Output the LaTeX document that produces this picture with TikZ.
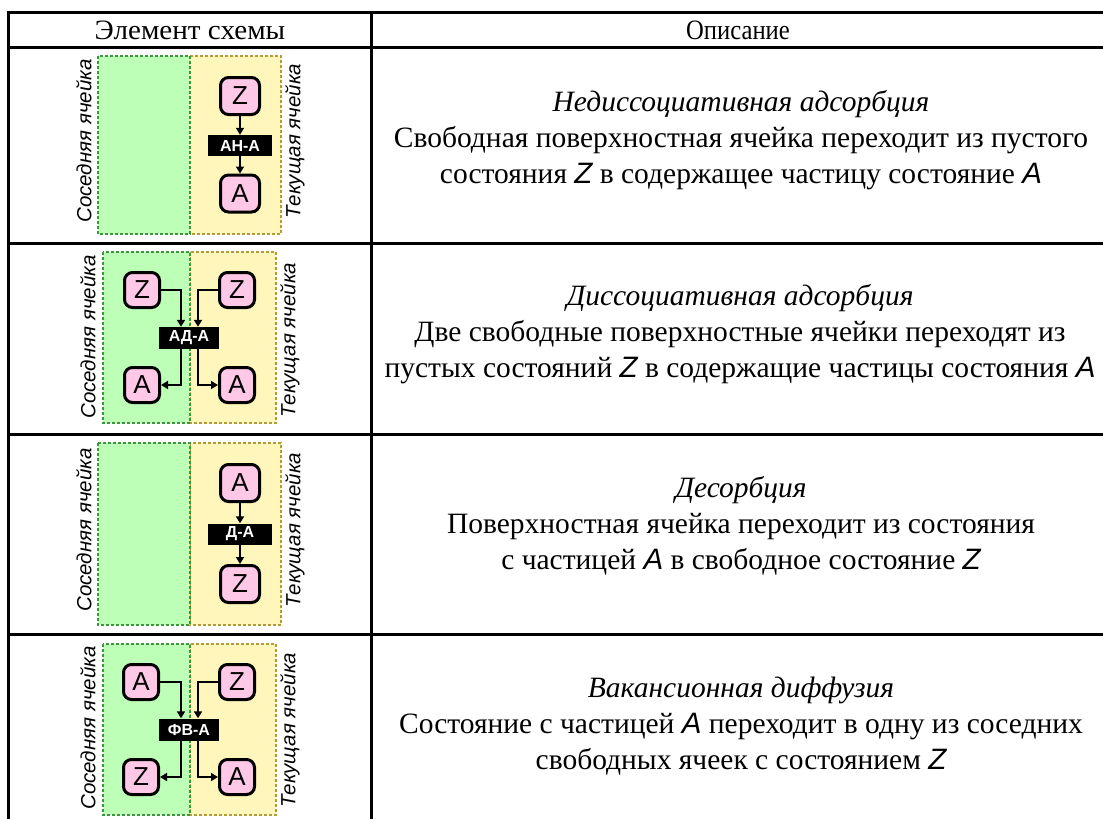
\documentclass[tikz,border=0pt]{standalone}
\usepackage{fontspec}
\setmainfont{Liberation Serif}
\newfontfamily\arialf{Liberation Sans}
\usetikzlibrary{arrows.meta}
\definecolor{pinkf}{RGB}{255,200,230}
\definecolor{greenf}{RGB}{190,255,184}
\definecolor{greenb}{RGB}{60,150,60}
\definecolor{yellowf}{RGB}{255,246,188}
\definecolor{yellowb}{RGB}{180,155,50}
\newcommand{\sv}[1]{{\arialf\itshape #1}}
\begin{document}
\begin{tikzpicture}[x=1pt,y=-1pt,
  tbl/.style={line width=3pt, line cap=rect},
  stbig/.style={draw=black, line width=3pt, fill=pinkf, rounded corners=8pt,
    minimum width=39pt, minimum height=37pt, inner sep=0pt,
    font=\arialf\fontsize{26}{26}\selectfont},
  stsm/.style={stbig, minimum width=35pt, minimum height=35pt},
  labbig/.style={fill=black, text=white, minimum width=64pt, minimum height=21pt, inner sep=0pt,
    font=\arialf\bfseries\fontsize{16}{16}\selectfont},
  labsm/.style={labbig, minimum width=60pt, minimum height=22pt},
  arr/.style={line width=1.8pt, -{Triangle[length=7pt,width=8pt]}},
  nbcell/.style={fill=greenf, draw=greenb, line width=2.8pt, dash pattern=on 2.6pt off 2.4pt},
  cucell/.style={fill=yellowf, draw=yellowb, line width=2.8pt, dash pattern=on 2.6pt off 2.4pt},
  side/.style={rotate=90, font=\arialf\itshape\fontsize{20.5}{20.5}\selectfont, inner sep=0pt},
  desc/.style={align=center, font=\fontsize{29.5}{36}\selectfont, inner sep=0pt},
  head/.style={font=\fontsize{28}{30}\selectfont, inner sep=0pt}
]
\useasboundingbox (0,0) rectangle (1103,819);
\fill[white] (0,0) rectangle (1103,819);

% table
\draw[tbl] (8,12) -- (1103,12);
\draw[tbl] (8,47) -- (1103,47);
\draw[tbl] (8,243) -- (1103,243);
\draw[tbl] (8,434) -- (1103,434);
\draw[tbl] (8,634) -- (1103,634);
\draw[tbl] (8,12) -- (8,819);
\draw[tbl] (371,12) -- (371,819);

\node[head] (h1) at (190,30) {\scalebox{1.04}[1]{Элемент схемы}};
\node[head] (h2) at (738,30) {\scalebox{0.88}[1]{Описание}};

% ---------- row 1 ----------
\filldraw[cucell] (190,56) rectangle (281,234);
\filldraw[nbcell] (98,56) rectangle (190,234);
\node[side] (s1) at (84,141) {Соседняя ячейка};
\node[side] (c1) at (295,141) {Текущая ячейка};
\node[stbig] (z1) at (240,96) {Z};
\node[labbig] (l1) at (240,145.5) {АН-А};
\node[stbig] (a1) at (240,193.5) {A};
\draw[arr] (z1) -- (l1);
\draw[arr] (l1) -- (a1);
\node[desc] (d1) at (741,140) {\textit{Недиссоциативная адсорбция}\\
  Свободная поверхностная ячейка переходит из пустого\\
  состояния \sv{Z} в содержащее частицу состояние \sv{A}};

% ---------- row 2 ----------
\filldraw[cucell] (190,252) rectangle (276,423);
\filldraw[nbcell] (103,252) rectangle (190,423);
\node[side] (s2) at (88,337) {Соседняя ячейка};
\node[side] (c2) at (290,340) {Текущая ячейка};
\node[stsm] (zl2) at (142,290) {Z};
\node[stsm] (zr2) at (237,290) {Z};
\node[labsm] (l2) at (189,338) {АД-А};
\node[stsm] (al2) at (142,385) {A};
\node[stsm] (ar2) at (237,385) {A};
\draw[arr] (zl2) -| ([xshift=-8pt]l2.north);
\draw[arr] (zr2) -| ([xshift=9pt]l2.north);
\draw[arr] ([xshift=-8pt]l2.south) |- (al2);
\draw[arr] ([xshift=9pt]l2.south) |- (ar2);
\node[desc] (d2) at (740,334) {\textit{Диссоциативная адсорбция}\\
  Две свободные поверхностные ячейки переходят из\\
  пустых состояний \sv{Z} в содержащие частицы состояния \sv{A}};

% ---------- row 3 ----------
\filldraw[cucell] (190,443) rectangle (281,625);
\filldraw[nbcell] (98,443) rectangle (190,625);
\node[side] (s3) at (84,530) {Соседняя ячейка};
\node[side] (c3) at (295,530) {Текущая ячейка};
\node[stbig] (a3) at (240,483) {A};
\node[labbig] (l3) at (240,534) {Д-А};
\node[stbig] (z3) at (240,584) {Z};
\draw[arr] (a3) -- (l3);
\draw[arr] (l3) -- (z3);
\node[desc] (d3) at (741,526) {\textit{Десорбция}\\
  Поверхностная ячейка переходит из состояния\\
  с частицей \sv{A} в свободное состояние \sv{Z}};

% ---------- row 4 ----------
\filldraw[cucell] (190,644) rectangle (276,815);
\filldraw[nbcell] (103,644) rectangle (190,815);
\node[side] (s4) at (88,728) {Соседняя ячейка};
\node[side] (c4) at (290,730) {Текущая ячейка};
\node[stsm] (al4) at (141,682) {A};
\node[stsm] (zr4) at (237,682) {Z};
\node[labsm] (l4) at (189,729.5) {ФВ-А};
\node[stsm] (zl4) at (141,777) {Z};
\node[stsm] (ar4) at (237,777) {A};
\draw[arr] (al4) -| ([xshift=-8pt]l4.north);
\draw[arr] (zr4) -| ([xshift=9pt]l4.north);
\draw[arr] ([xshift=-8pt]l4.south) |- (zl4);
\draw[arr] ([xshift=9pt]l4.south) |- (ar4);
\node[desc] (d4) at (741,726) {\textit{Вакансионная диффузия}\\
  Состояние с частицей \sv{A} переходит в одну из соседних\\
  свободных ячеек с состоянием \sv{Z}};
\end{tikzpicture}
\end{document}
